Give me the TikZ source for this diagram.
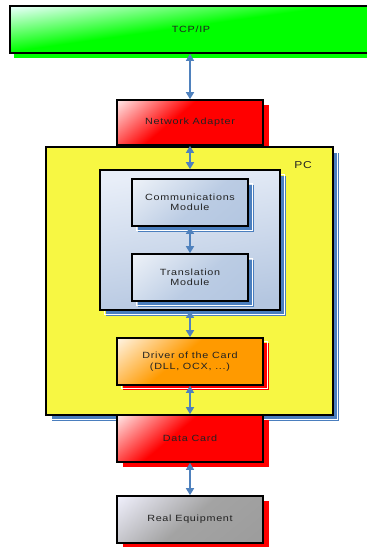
\documentclass[tikz,border=0pt]{standalone}
\usepackage{fontspec}
\setmainfont{Liberation Sans}[FakeStretch=1.2, LetterSpace=8]
\usetikzlibrary{arrows.meta,shadows}

\definecolor{linkblue}{HTML}{4F81BD}
\definecolor{shadeblue}{HTML}{4A7EBE}
\definecolor{pcyellow}{HTML}{F7F743}
\definecolor{labelgray}{HTML}{222222}
\definecolor{netgreen}{HTML}{00FF00}
\definecolor{paleblue}{HTML}{E8EEF8}
\definecolor{midblue}{HTML}{B4C6E0}
\definecolor{modblue}{HTML}{AFC3DF}
\definecolor{cardorange}{HTML}{FF9A00}
\definecolor{eqgray}{HTML}{999999}

% glossy fills: pale in the upper left corner, full colour from the middle on
\pgfdeclareverticalshading{glossred}{100bp}{color(0bp)=(red); color(57bp)=(red);
  color(86bp)=(red!6!white); color(100bp)=(red!6!white)}
\pgfdeclareverticalshading{glossorange}{100bp}{color(0bp)=(cardorange); color(55bp)=(cardorange);
  color(86bp)=(cardorange!8!white); color(100bp)=(cardorange!8!white)}
\pgfdeclareverticalshading{glossgray}{100bp}{color(0bp)=(eqgray); color(50bp)=(eqgray!90!white);
  color(86bp)=(blue!5!white); color(100bp)=(blue!5!white)}
\pgfdeclareverticalshading{glossmodule}{100bp}{color(0bp)=(modblue); color(45bp)=(modblue!85!white);
  color(86bp)=(modblue!20!white); color(100bp)=(modblue!20!white)}
\pgfdeclareverticalshading{glossgreen}{100bp}{color(0bp)=(netgreen); color(52bp)=(netgreen);
  color(78bp)=(netgreen!8!cyan!8!white); color(100bp)=(netgreen!8!cyan!8!white)}

\tikzset{
  box/.style={draw=black, line width=1.6pt, text=labelgray, align=center,
    inner sep=0pt, font=\fontsize{9}{10.5}\selectfont},
  redshadow/.style={general shadow={fill=red, draw=none,
    shadow xshift=6pt, shadow yshift=-5pt}},
  greenshadow/.style={general shadow={fill=netgreen, draw=none,
    shadow xshift=4pt, shadow yshift=-5pt}},
  blueshadow/.style={
    general shadow={fill=shadeblue, draw=none, shadow xshift=6pt, shadow yshift=-6pt},
    general shadow={draw=white, fill=none, line width=0.5pt, shadow xshift=4.5pt, shadow yshift=-4.5pt}},
  redwhiteshadow/.style={
    general shadow={fill=red, draw=none, shadow xshift=6pt, shadow yshift=-5pt},
    general shadow={draw=white, fill=none, line width=0.5pt, shadow xshift=4.5pt, shadow yshift=-3.5pt}},
  glossy/.style={shading=#1, shading angle=40},
  link/.style={linkblue, line width=1.3pt,
    {Triangle[width=8pt,length=7pt]}-{Triangle[width=8pt,length=7pt]}}
}

\begin{document}
\begin{tikzpicture}[x=1pt, y=-1pt]
\useasboundingbox (0,0) rectangle (367,547);

% network layer
\node[box, greenshadow, shading=glossgreen, shading angle=8,
      minimum width=362pt, minimum height=47pt] (tcp) at (191,29.5) {TCP/IP};

\node[box, redshadow, glossy=glossred, minimum width=146pt, minimum height=45pt]
      (na) at (190,122.5) {Network Adapter};

% the PC
\node[box, blueshadow, fill=pcyellow, minimum width=287pt, minimum height=268pt]
      (pc) at (189.5,281) {};
\node[text=labelgray, font=\fontsize{10}{12}\selectfont, inner sep=0pt]
      (pclabel) at (303,165) {PC};

\node[box, blueshadow, shading=axis, top color=paleblue, bottom color=midblue,
      shading angle=10, minimum width=180pt, minimum height=140pt]
      (inner) at (190,240) {};

\node[box, blueshadow, glossy=glossmodule, minimum width=116pt, minimum height=47pt]
      (comm) at (190,202.5) {Communications\\Module};
\node[box, blueshadow, glossy=glossmodule, minimum width=116pt, minimum height=47pt]
      (trans) at (190,277.5) {Translation\\Module};

\node[box, redwhiteshadow, glossy=glossorange, minimum width=146pt, minimum height=47pt]
      (drv) at (190,361.5) {Driver of the Card\\(DLL, OCX, ...)};

% hardware
\node[box, redshadow, glossy=glossred, minimum width=146pt, minimum height=47pt]
      (data) at (190,438.5) {Data Card};
\node[box, redshadow, glossy=glossgray, minimum width=146pt, minimum height=47pt]
      (real) at (190,519.5) {Real Equipment};

% links
\draw[link] (na.north |- tcp.south) -- (na.north);
\draw[link] (na.south) -- (inner.north);
\draw[link] (comm.south) -- (trans.north);
\draw[link] (inner.south) -- (drv.north);
\draw[link] (drv.south) -- (data.north);
\draw[link] (data.south) -- (real.north);
\end{tikzpicture}
\end{document}
